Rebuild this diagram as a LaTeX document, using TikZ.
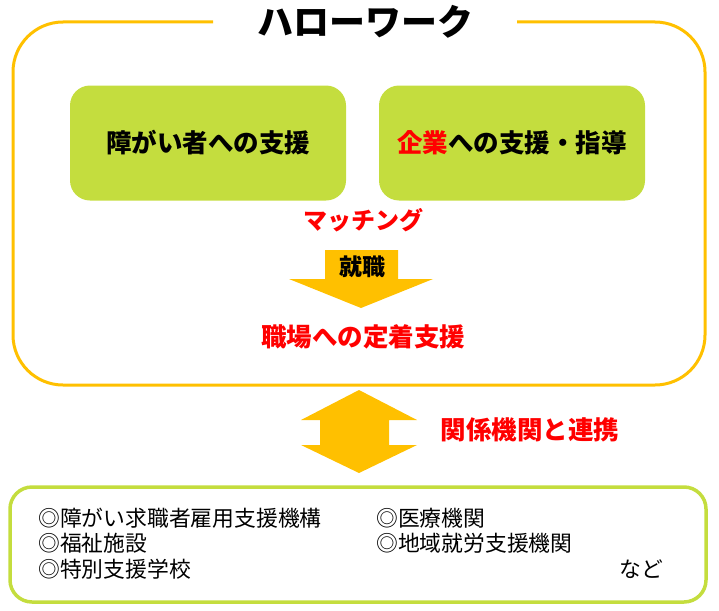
\documentclass[tikz,border=0pt]{standalone}
\usepackage{fontspec}
\setmainfont{Noto Sans CJK JP}
\definecolor{hwyellow}{HTML}{FFC000}
\definecolor{hwgreen}{HTML}{C4DD3E}
\definecolor{hwred}{HTML}{FF0000}
\tikzset{
  supportbox/.style={fill=hwgreen,rounded corners=20pt,minimum width=#1,minimum height=115pt,
    font=\fontsize{25.5}{30}\selectfont\bfseries},
  redlabel/.style={text=hwred,font=\fontsize{25.5}{30}\selectfont\bfseries},
  agency/.style={anchor=west,inner xsep=0pt,font=\fontsize{21.8}{25}\selectfont},
}
\begin{document}
\begin{tikzpicture}[x=1pt,y=-1pt]
  \useasboundingbox (0,0) rectangle (719,610);

  % Hello Work frame
  \draw[hwyellow,line width=3pt,rounded corners=50pt]
    (517,22) -- (705,22) -- (705,385) -- (13,385) -- (13,22) -- (213,22);
  \node (title) at (365,22) {\fontsize{36}{40}\selectfont\bfseries ハローワーク};

  \begin{scope}[every node/.style={supportbox=276pt}]
    \node (person)  at (208,143) {障がい者への支援};
  \end{scope}
  \node[supportbox=266pt] (company) at (512,143) {\textcolor{hwred}{企業}への支援・指導};

  \node[redlabel,font=\fontsize{24}{28}\selectfont\bfseries] (matching) at (363,220) {マッチング};

  % down arrow
  \fill[hwyellow] (325,250) -- (398,250) -- (398,279) -- (433,279) -- (361,308)
    -- (289,279) -- (325,279) -- cycle;
  \node[font=\fontsize{23}{27}\selectfont\bfseries] (job) at (362,267) {就職};

  \node[redlabel] (settle) at (363,337) {職場への定着支援};

  % double arrow
  \fill[hwyellow] (359,390) -- (417,420) -- (389,420) -- (389,445) -- (417,445)
    -- (359,473) -- (301,445) -- (320,445) -- (320,420) -- (301,420) -- cycle;
  \node[redlabel] (link) at (530,430) {関係機関と連携};

  % related agencies
  \draw[hwgreen,line width=3.5pt,rounded corners=22pt] (10,487) rectangle (706,602);
  \begin{scope}[every node/.style={agency}]
    \node (jeed)    at (38,518)  {◎障がい求職者雇用支援機構};
    \node (welfare) at (38,543)  {◎福祉施設};
    \node (school)  at (38,569)  {◎特別支援学校};
    \node (medical) at (376,518) {◎医療機関};
    \node (local)   at (376,543) {◎地域就労支援機関};
    \node (etc)     at (619,569) {など};
  \end{scope}
\end{tikzpicture}
\end{document}
